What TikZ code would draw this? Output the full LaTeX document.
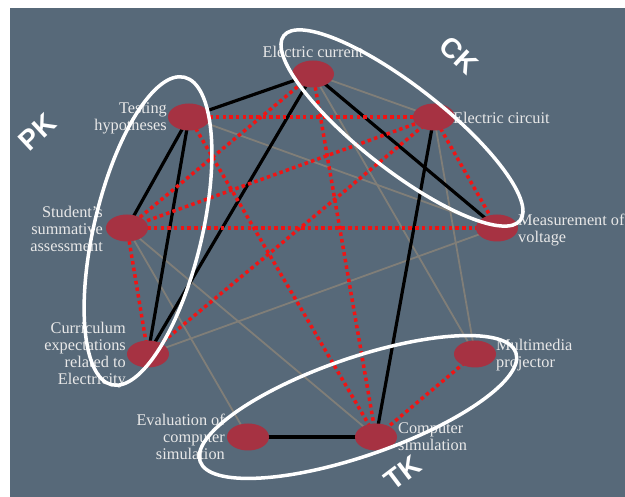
\documentclass[tikz,border=0pt]{standalone}
\usepackage{fontspec}
\setmainfont{Liberation Serif}
\newfontfamily\grpfont{Liberation Sans}
\usetikzlibrary{shapes.geometric}
\definecolor{bgc}{RGB}{87,105,121}
\definecolor{nodec}{RGB}{166,50,66}
\definecolor{dotred}{RGB}{240,20,20}
\definecolor{faint}{RGB}{128,126,120}
\definecolor{lbl}{RGB}{232,232,232}
\pgfdeclarelayer{back}
\pgfdeclarelayer{edges}
\pgfdeclarelayer{front}
\pgfsetlayers{back,edges,main,front}
\tikzset{
  kn/.style={ellipse, fill=nodec, minimum width=42pt, minimum height=27pt, inner sep=0pt},
  lab/.style={text=lbl, font=\fontsize{16.3}{17}\selectfont, inner sep=0pt},
  strong/.style={black, line width=3.2pt},
  reddot/.style={dotred, line width=3.5pt, dash pattern=on 3.5pt off 3.2pt},
  weak/.style={faint, line width=1.8pt},
  grp/.style={white, line width=3.5pt},
  grplab/.style={text=white, font=\grpfont\bfseries\fontsize{28}{28}\selectfont, inner sep=0pt}
}
\begin{document}
\begin{tikzpicture}[x=1pt, y=1pt]
\useasboundingbox (0,0) rectangle (625,497);
\begin{pgfonlayer}{back}
  \fill[white] (0,0) rectangle (625,497);
  \fill[bgc] (10,0) rectangle (625,489);
\end{pgfonlayer}

% nodes
\node[kn] (cur)   at (313,423) {};
\node[kn] (test)  at (189,380) {};
\node[kn] (circ)  at (434,380) {};
\node[kn] (stud)  at (127,269) {};
\node[kn] (meas)  at (497,269) {};
\node[kn] (curr)  at (148,143) {};
\node[kn] (multi) at (475,143) {};
\node[kn] (eval)  at (248,60) {};
\node[kn] (comp)  at (376,60) {};

% labels
\node[lab] (lcur) at (313,445) {Electric current};
\node[lab, anchor=east, align=right] (ltest) at (167,378.5) {Testing\\hypotheses};
\node[lab, anchor=east, align=right] (lstud) at (103,268) {Student’s\\summative\\assessment};
\node[lab, anchor=east, align=right] (lcurr) at (126,142) {Curriculum\\expectations\\related to\\Electricity};
\node[lab, anchor=west, align=left] (lcirc) at (453,379) {Electric circuit};
\node[lab, anchor=west, align=left] (lmeas) at (518,267) {Measurement of\\voltage};
\node[lab, anchor=west, align=left] (lmulti) at (496,141.5) {Multimedia\\projector};
\node[lab, anchor=west, align=left] (lcomp) at (398,60) {Computer\\simulation};
\node[lab, anchor=east, align=right] (leval) at (225,60) {Evaluation of\\computer\\simulation};

\begin{pgfonlayer}{edges}
  % faint links
  \draw[weak] (cur.center) -- (circ.center);
  \draw[weak] (cur.center) -- (multi.center);
  \draw[weak] (circ.center) -- (multi.center);
  \draw[weak] (test.center) -- (meas.center);
  \draw[weak] (stud.center) -- (comp.center);
  \draw[weak] (stud.center) -- (eval.center);
  \draw[weak] (curr.center) -- (meas.center);
  % strong links
  \draw[strong] (cur.center) -- (test.center);
  \draw[strong] (cur.center) -- (curr.center);
  \draw[strong] (cur.center) -- (meas.center);
  \draw[strong] (test.center) -- (stud.center);
  \draw[strong] (test.center) -- (curr.center);
  \draw[strong] (circ.center) -- (comp.center);
  \draw[strong] (eval.center) -- (comp.center);
  % dotted red links
  \draw[reddot] (test.center) -- (circ.center);
  \draw[reddot] (test.center) -- (comp.center);
  \draw[reddot] (cur.center) -- (stud.center);
  \draw[reddot] (cur.center) -- (comp.center);
  \draw[reddot] (circ.center) -- (stud.center);
  \draw[reddot] (circ.center) -- (curr.center);
  \draw[reddot] (circ.center) -- (meas.center);
  \draw[reddot] (stud.center) -- (meas.center);
  \draw[reddot] (stud.center) -- (curr.center);
  \draw[reddot] (multi.center) -- (comp.center);
\end{pgfonlayer}

\begin{pgfonlayer}{front}
  \coordinate (pkc) at (148,266);
  \coordinate (ckc) at (402,369);
  \coordinate (tkc) at (358,90);
  \draw[grp, rotate around={76.7:(pkc)}] (pkc) ellipse [x radius=158pt, y radius=54pt];
  \draw[grp, rotate around={-38:(ckc)}] (ckc) ellipse [x radius=150pt, y radius=42pt];
  \draw[grp, rotate around={19:(tkc)}] (tkc) ellipse [x radius=167pt, y radius=49pt];
  \node[grplab, rotate=43] (pk) at (37,365) {PK};
  \node[grplab, rotate=-43] (ck) at (459,442) {CK};
  \node[grplab, rotate=37] (tk) at (403,24) {TK};
\end{pgfonlayer}
\end{tikzpicture}
\end{document}
